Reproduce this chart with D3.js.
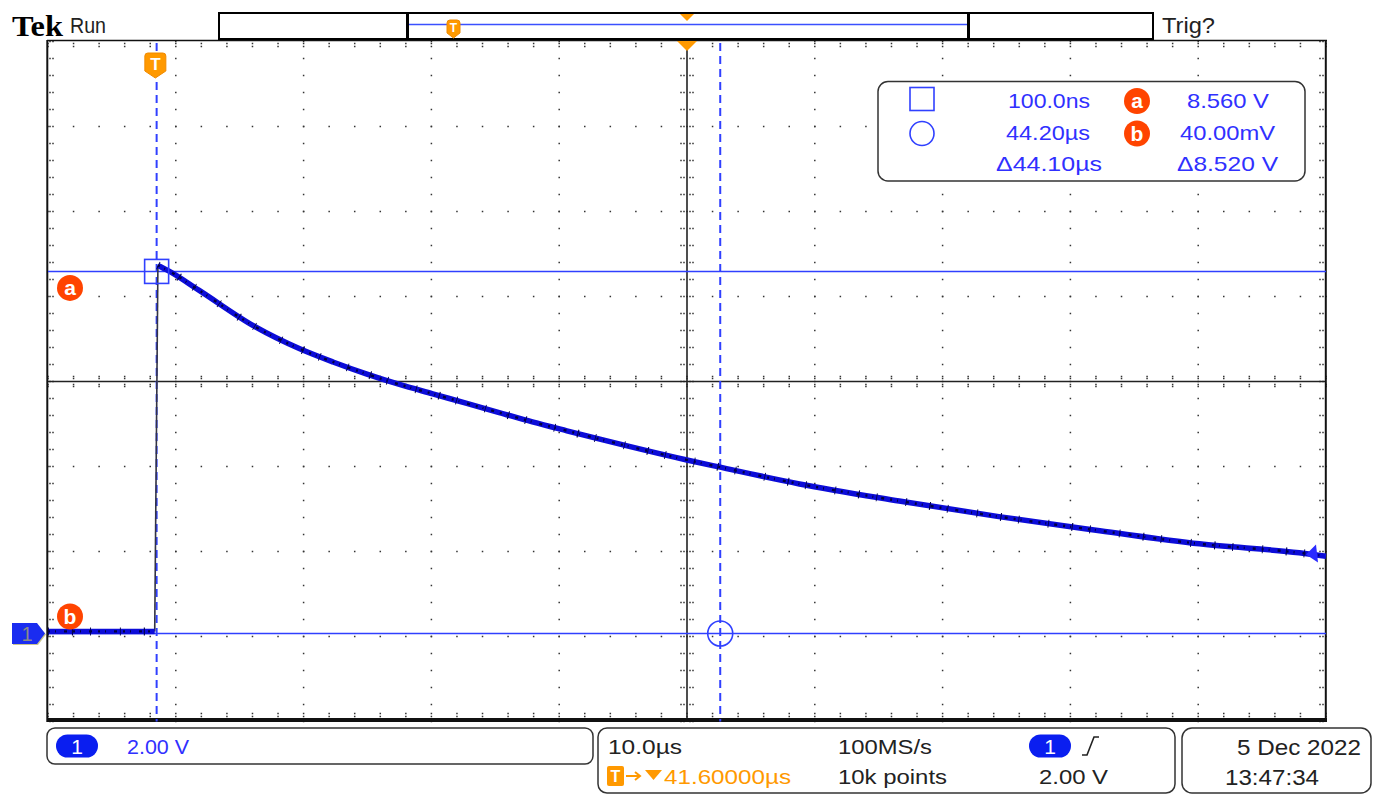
<!DOCTYPE html>
<html><head><meta charset="utf-8">
<script src="https://cdn.jsdelivr.net/npm/d3@7"></script>
<style>html,body{margin:0;padding:0;background:#fff;overflow:hidden}svg{display:block}</style>
</head><body>
<svg id="c" width="1383" height="805"></svg>
<script>
// ---------- data ----------
const timeDomain = [-8.4, 91.6];          // µs across 10 divisions (10 µs/div)
const voltDomain = [-2.03, 13.97];        // V across 8 divisions (2 V/div)
const xTickDivs = d3.range(0, 11);        // major vertical graticule lines
const yTickDivs = d3.range(0, 9);         // major horizontal graticule lines
const baselineT = [-8.4, -0.05];
const baselineV = [0.09, 0.09];
const edgeT = [-0.05, 0.2];
const edgeV = [0.09, 8.7];
const decayT = [0.2, 1.0, 3.4, 7.8, 11.3, 13.9, 16.5, 19.1, 21.7, 24.3, 26.9, 29.5, 32.2, 34.7, 41.5, 44.1, 50.4, 58.2, 66.0, 73.9, 81.7, 89.5, 91.6];
const decayV = [8.7, 8.58, 8.12, 7.26, 6.74, 6.43, 6.15, 5.9, 5.68, 5.46, 5.24, 5.02, 4.81, 4.62, 4.13, 3.96, 3.56, 3.16, 2.79, 2.46, 2.15, 1.94, 1.86];
const cursorTimes = [0.1, 44.2];          // µs
const cursorVolts = [8.56, 0.04];         // V
const readoutLeft = ["100.0ns", "44.20µs", "Δ44.10µs"];
const readoutRight = ["8.560 V", "40.00mV", "Δ8.520 V"];
const trigLevel = 1.9;                    // right-side level arrow (V)

// ---------- layout ----------
const L = 48, R = 1326, T = 41.5, B = 721.5;
const x = d3.scaleLinear().domain(timeDomain).range([L, R]);
const y = d3.scaleLinear().domain(voltDomain).range([B, T]);
const gx = d3.scaleLinear().domain([0, 10]).range([L, R]);
const gy = d3.scaleLinear().domain([0, 8]).range([T, B]);

const svg = d3.select("#c");
const FONT = "'Liberation Sans', Arial, sans-serif";
const BLUE = "#3030ff", ORANGE = "#ff9900", RED = "#ff4400", INK = "#222";

function txt(g, px, py, s, o) {
  o = o || {};
  const t = g.append("text").attr("x", px).attr("y", py).text(s)
    .attr("font-family", o.family || FONT).attr("font-size", o.size || 21)
    .attr("fill", o.fill || INK).attr("font-weight", o.weight || "normal")
    .attr("text-anchor", o.anchor || "start");
  if (o.w) t.attr("textLength", o.w).attr("lengthAdjust", "spacingAndGlyphs");
  return t;
}

svg.append("rect").attr("width", 1383).attr("height", 805).attr("fill", "#fff");

// ---------- graticule ----------
const grid = svg.append("g").attr("fill", "#333");
const minorX = d3.range(0, 51).map(i => gx(i / 5));
const minorY = d3.range(0, 41).map(i => gy(i / 5));
xTickDivs.filter(d => d > 0 && d < 10 && d !== 5).forEach(d => {
  minorY.forEach(yy => grid.append("rect").attr("x", gx(d) - 0.75).attr("y", yy - 0.75).attr("width", 1.5).attr("height", 1.5));
});
yTickDivs.filter(d => d > 0 && d < 8 && d !== 4).forEach(d => {
  minorX.forEach(xx => grid.append("rect").attr("x", xx - 0.75).attr("y", gy(d) - 0.75).attr("width", 1.5).attr("height", 1.5));
});
minorX.forEach(xx => {
  [T + 2, T + 5, B - 5, B - 8].forEach(yy => grid.append("rect").attr("x", xx - 0.75).attr("y", yy - 0.75).attr("width", 1.5).attr("height", 1.5));
});
minorY.forEach(yy => {
  [L + 2, L + 5, R - 3, R - 6].forEach(xx => grid.append("rect").attr("x", xx - 0.75).attr("y", yy - 0.75).attr("width", 1.5).attr("height", 1.5));
});
svg.append("line").attr("x1", gx(5)).attr("x2", gx(5)).attr("y1", T).attr("y2", B).attr("stroke", "#222").attr("stroke-width", 1.6);
svg.append("line").attr("x1", L).attr("x2", R).attr("y1", gy(4)).attr("y2", gy(4)).attr("stroke", "#222").attr("stroke-width", 1.6);
minorY.forEach(yy => [-6, -3, 3, 6].forEach(o => grid.append("rect").attr("x", gx(5) + o - 0.75).attr("y", yy - 0.75).attr("width", 1.5).attr("height", 1.5)));
minorX.forEach(xx => [-5, -3, 3, 5].forEach(o => grid.append("rect").attr("x", xx - 0.75).attr("y", gy(4) + o - 0.75).attr("width", 1.5).attr("height", 1.5)));
svg.append("line").attr("x1", L - 1).attr("x2", R + 1).attr("y1", 40.5).attr("y2", 40.5).attr("stroke", "#111").attr("stroke-width", 1.5);
svg.append("line").attr("x1", L - 1).attr("x2", R + 1).attr("y1", 720).attr("y2", 720).attr("stroke", "#111").attr("stroke-width", 4);
svg.append("line").attr("x1", 47.3).attr("x2", 47.3).attr("y1", 40).attr("y2", 722).attr("stroke", "#111").attr("stroke-width", 2);
svg.append("line").attr("x1", 1325.8).attr("x2", 1325.8).attr("y1", 40).attr("y2", 722).attr("stroke", "#111").attr("stroke-width", 2);

// ---------- cursors ----------
cursorVolts.forEach(v => svg.append("line").attr("x1", L).attr("x2", R).attr("y1", y(v)).attr("y2", y(v))
  .attr("stroke", "#3040ff").attr("stroke-width", 1.5));
cursorTimes.forEach(t => svg.append("line").attr("x1", x(t)).attr("x2", x(t)).attr("y1", 43).attr("y2", B)
  .attr("stroke", "#3040ff").attr("stroke-width", 2).attr("stroke-dasharray", "8,5"));

// ---------- trace ----------
const line = d3.line().x(d => x(d[0])).y(d => y(d[1]));
const baseData = d3.zip(baselineT, baselineV);
const decayData = d3.zip(decayT, decayV);
svg.append("path").datum(d3.zip(edgeT, edgeV)).attr("d", line).attr("fill", "none").attr("stroke", "#334").attr("stroke-width", 1.6);
[baseData, decayData].forEach(dd => {
  const ln = d3.line().x(d => x(d[0])).y(d => y(d[1])).curve(d3.curveMonotoneX);
  svg.append("path").datum(dd).attr("d", ln).attr("fill", "none").attr("stroke", "#0c0cd8").attr("stroke-width", 5.5);
  svg.append("path").datum(dd).attr("d", ln).attr("fill", "none").attr("stroke", "#000040").attr("stroke-width", 2.4).attr("stroke-dasharray", "2,5,1,8,3,6");
  svg.append("path").datum(dd).attr("d", ln).attr("fill", "none").attr("stroke", "#000050").attr("stroke-width", 8).attr("stroke-dasharray", "0.9,23,1.1,17,0.9,29");
});

svg.append("rect").attr("x", x(cursorTimes[0]) - 12).attr("y", y(cursorVolts[0]) - 12).attr("width", 24).attr("height", 24)
  .attr("fill", "none").attr("stroke", "#3040ff").attr("stroke-width", 1.6);
svg.append("circle").attr("cx", x(cursorTimes[1])).attr("cy", y(cursorVolts[1])).attr("r", 12.5)
  .attr("fill", "none").attr("stroke", "#3040ff").attr("stroke-width", 1.6);

function badge(px, py, letter) {
  svg.append("circle").attr("cx", px).attr("cy", py).attr("r", 13).attr("fill", RED);
  txt(svg, px, py + 7, letter, {size: 21, fill: "#fff", weight: "bold", anchor: "middle"});
}
badge(70, y(cursorVolts[0]) + 16.5, "a");
badge(70, y(cursorVolts[1]) - 17, "b");

svg.append("path").attr("d", "M13,625 H38 L46,634.5 L38,645 H13 Z").attr("fill", "#c9c48e");
svg.append("path").attr("d", "M12,623 H37 L45,633.5 L37,644 H12 Z").attr("fill", "#1a2cf0");
txt(svg, 27, 641, "1", {size: 20, fill: "#8a8a8a", anchor: "middle"});
const ly = y(trigLevel);
svg.append("path").attr("d", `M1306,${ly} L1316,${ly - 10} L1318,${ly + 8} Z`).attr("fill", "#2a2aff");

function tMarker(cx, top, w, h, fs) {
  svg.append("path").attr("d", `M${cx - w/2},${top + 3} Q${cx - w/2},${top} ${cx - w/2 + 3},${top} H${cx + w/2 - 3} Q${cx + w/2},${top} ${cx + w/2},${top + 3} V${top + h * 0.72} L${cx},${top + h} L${cx - w/2},${top + h * 0.72} Z`)
    .attr("fill", ORANGE).attr("stroke", "#f08a00").attr("stroke-width", 1);
  txt(svg, cx, top + h * 0.68, "T", {size: fs, fill: "#fff", weight: "bold", anchor: "middle"});
}
tMarker(x(0), 53, 21, 25, 17);

// ---------- top bar ----------
txt(svg, 12, 36, "Tek", {family: "'Liberation Serif', 'Times New Roman', serif", size: 29, weight: "bold", fill: "#000", w: 51});
txt(svg, 70, 33, "Run", {size: 22, fill: "#222", w: 36});
txt(svg, 1162, 33, "Trig?", {size: 22, fill: "#222", w: 53});
svg.append("rect").attr("x", 219).attr("y", 13).attr("width", 934).attr("height", 26).attr("fill", "#fff").attr("stroke", "#000").attr("stroke-width", 2);
svg.append("line").attr("x1", 409).attr("x2", 967).attr("y1", 24.5).attr("y2", 24.5).attr("stroke", "#3a50ff").attr("stroke-width", 1.6);
svg.append("line").attr("x1", 407.5).attr("x2", 407.5).attr("y1", 13).attr("y2", 39).attr("stroke", "#000").attr("stroke-width", 3);
svg.append("line").attr("x1", 968.5).attr("x2", 968.5).attr("y1", 13).attr("y2", 39).attr("stroke", "#000").attr("stroke-width", 3);
svg.append("path").attr("d", "M680,14 H694 L687,21 Z").attr("fill", ORANGE);
svg.append("path").attr("d", "M677,41 H697 L687,51 Z").attr("fill", ORANGE);
tMarker(453.5, 20, 13, 18, 12);

// ---------- readout box ----------
svg.append("rect").attr("x", 878).attr("y", 81.5).attr("width", 427).attr("height", 99.5).attr("rx", 10)
  .attr("fill", "#fff").attr("stroke", "#333").attr("stroke-width", 1.5);
svg.append("rect").attr("x", 910).attr("y", 87.5).attr("width", 24).attr("height", 23).attr("fill", "none").attr("stroke", "#3040ff").attr("stroke-width", 1.6);
svg.append("circle").attr("cx", 922).attr("cy", 133.5).attr("r", 12).attr("fill", "none").attr("stroke", "#3040ff").attr("stroke-width", 1.6);
const rowY = [108, 140, 171];
const leftW = [82, 84, 106], rightW = [82, 95, 101];
readoutLeft.forEach((s, i) => txt(svg, 1090 + (i === 2 ? 12 : 0), rowY[i], s, {size: 21, fill: BLUE, anchor: "end", w: leftW[i]}));
readoutRight.forEach((s, i) => txt(svg, [1269, 1275, 1278][i], rowY[i], s, {size: 21, fill: BLUE, anchor: "end", w: rightW[i]}));
badge(1137, 101, "a");
badge(1137, 133.5, "b");

// ---------- bottom status ----------
svg.append("rect").attr("x", 47).attr("y", 728).attr("width", 546).attr("height", 36).attr("rx", 8).attr("fill", "#fff").attr("stroke", "#333").attr("stroke-width", 1.5);
svg.append("rect").attr("x", 598).attr("y", 728).attr("width", 577).attr("height", 65).attr("rx", 9).attr("fill", "#fff").attr("stroke", "#333").attr("stroke-width", 1.5);
svg.append("rect").attr("x", 1182).attr("y", 728).attr("width", 189).attr("height", 65).attr("rx", 10).attr("fill", "#fff").attr("stroke", "#333").attr("stroke-width", 1.5);
function pill(cx, cy) {
  svg.append("rect").attr("x", cx - 21).attr("y", cy - 11.5).attr("width", 42).attr("height", 23).attr("rx", 11.5).attr("fill", "#0a1ef0");
  txt(svg, cx, cy + 7.5, "1", {size: 21, fill: "#fff", anchor: "middle"});
}
pill(77, 746);
txt(svg, 127, 754, "2.00 V", {size: 21, fill: BLUE, w: 62});
txt(svg, 608, 754, "10.0µs", {size: 21, fill: INK, w: 74});
txt(svg, 838, 754, "100MS/s", {size: 21, fill: INK, w: 94});
pill(1050, 746);
svg.append("path").attr("d", "M1082,755 H1087 L1094,737 H1099").attr("fill", "none").attr("stroke", INK).attr("stroke-width", 1.6);
svg.append("rect").attr("x", 607).attr("y", 766).attr("width", 17).attr("height", 20).attr("rx", 2).attr("fill", ORANGE);
txt(svg, 615.5, 782, "T", {size: 16, fill: "#fff", weight: "bold", anchor: "middle"});
svg.append("path").attr("d", "M626,776 H639 M635,772 L640,776 L635,780").attr("fill", "none").attr("stroke", ORANGE).attr("stroke-width", 2);
svg.append("path").attr("d", "M645,770 H662 L653.5,780 Z").attr("fill", ORANGE);
txt(svg, 664, 784, "41.60000µs", {size: 21, fill: ORANGE, w: 127});
txt(svg, 838, 784, "10k points", {size: 21, fill: INK, w: 109});
txt(svg, 1108, 784, "2.00 V", {size: 21, fill: INK, anchor: "end", w: 69});
txt(svg, 1361, 755, "5 Dec  2022", {size: 22, fill: INK, anchor: "end", w: 124});
txt(svg, 1225, 785, "13:47:34", {size: 22, fill: INK, w: 94});
</script>
</body></html>
